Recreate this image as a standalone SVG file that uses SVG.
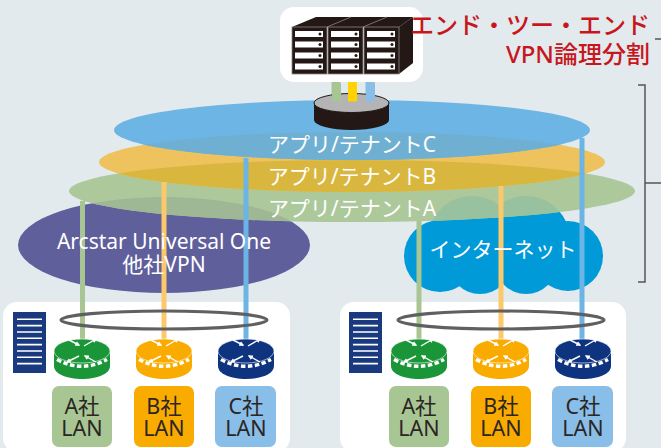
<svg xmlns="http://www.w3.org/2000/svg" xmlns:xlink="http://www.w3.org/1999/xlink" width="661" height="448" viewBox="0 0 661 448">
<style>
text{font-family:"Noto Sans","Noto Sans CJK JP",sans-serif;text-anchor:middle}
.w{fill:#fff;font-size:21px}
.lan{fill:#2b2523;font-size:21.5px}
.red{fill:#c8161d;font-size:24px;font-weight:500;text-anchor:end}
.br{fill:none;stroke:#555;stroke-width:1.5}
.ring{fill:none;stroke:#606060;stroke-width:3.2}
.wl{stroke:#fff;stroke-width:1.6}
.panel{fill:#fff}
.ga{stroke:#a8c594;stroke-width:5}
.ob{stroke:#fbc96b;stroke-width:5}
.bc{stroke:#6cb4e4;stroke-width:5}
.slot{fill:#fff}
</style>
<defs>
<clipPath id="cBlue"><ellipse cx="352" cy="130" rx="238" ry="30"/></clipPath>
<clipPath id="cOrange"><ellipse cx="352" cy="162" rx="253" ry="30"/></clipPath>
<clipPath id="cGreen"><ellipse cx="352" cy="191" rx="283" ry="31"/></clipPath>
<g id="cloudShape">
<circle cx="472" cy="240" r="44"/><circle cx="526" cy="240" r="44"/><circle cx="440" cy="256" r="36"/><circle cx="568" cy="256" r="35"/><circle cx="480" cy="263" r="31"/><circle cx="526" cy="263" r="31"/><rect x="440" y="230" width="128" height="50"/>
</g>
<marker id="ah" markerWidth="5" markerHeight="5" refX="3.6" refY="2.5" orient="auto" markerUnits="userSpaceOnUse"><path d="M0 0L5 2.5L0 5Z" fill="#fff"/></marker>
<g id="rtrArrows" stroke="#fff" stroke-width="1.4" fill="none">
<path d="M-13 -11L-3 -6" marker-end="url(#ah)"/><path d="M2 -5L14 -12" marker-end="url(#ah)"/><path d="M-3 5L-15 11" marker-end="url(#ah)"/><path d="M14 11L3 5" marker-end="url(#ah)"/>
</g>
<g id="rtrBand"><path d="M-25 8.500Q0 22 25 8.500" fill="none" stroke="#fff" stroke-width="3.500" stroke-dasharray="4.500 2.500"/></g>
<g id="rack">
<rect x="0" y="0" width="35" height="47" fill="#231815" stroke="#8c8785" stroke-width=".8"/>
<rect class="slot" x="3" y="4" width="28" height="6"/><rect class="slot" x="3" y="14.500" width="28" height="6"/><rect class="slot" x="3" y="25.500" width="28" height="6"/><rect class="slot" x="3" y="36.500" width="28" height="6"/>
<g fill="#231815"><circle cx="28" cy="7" r="1.500"/><circle cx="28" cy="17.500" r="1.500"/><circle cx="28" cy="28.500" r="1.500"/><circle cx="28" cy="39.500" r="1.500"/></g>
</g>
<g id="doc"><rect x="0" y="0" width="33" height="61" fill="#1a3a80"/><path class="wl" d="M4 7.300H29M4 13.600H29M4 20H29M4 26.300H29M4 32.600H29M4 39H29M4 45.300H29M4 51.600H29"/></g>
</defs>
<rect width="661" height="448" fill="#e2eaee"/>

<g id="panel-left"><rect class="panel" x="3" y="302" width="287" height="150" rx="14"/></g>
<g id="panel-right"><rect class="panel" x="340" y="302" width="286" height="150" rx="14"/></g>

<g id="vpn-cloud"><ellipse cx="164" cy="245" rx="146" ry="48" fill="#5f609b"/></g>
<g id="internet-cloud"><use href="#cloudShape" fill="#009ad9"/></g>

<g id="tenant-a"><ellipse cx="352" cy="191" rx="283" ry="31" fill="#adc99c"/></g>
<g clip-path="url(#cGreen)"><ellipse cx="164" cy="245" rx="146" ry="48" fill="#9fb795"/><use href="#cloudShape" fill="#97c19f"/></g>
<g id="tenant-b"><ellipse cx="352" cy="162" rx="253" ry="30" fill="#eec25c"/></g>
<g clip-path="url(#cOrange)"><ellipse cx="352" cy="191" rx="283" ry="31" fill="#d9b73f"/></g>
<g id="tenant-c"><ellipse cx="352" cy="130" rx="238" ry="30" fill="#6db5e4"/></g>
<g clip-path="url(#cBlue)"><ellipse cx="352" cy="162" rx="253" ry="30" fill="#6fb0d2"/></g>

<g id="connectors">
<path class="ga" d="M82.500 201V340"/><path class="ob" d="M164 182V340"/><path class="bc" d="M246 158V340"/>
<path class="ga" d="M419 221V340"/><path class="ob" d="M501 186V340"/><path class="bc" d="M582 138V340"/>
<path class="ga" d="M336 82V102" stroke-width="8" style="stroke-width:9"/>
<path d="M352.500 82V102" stroke="#ffd200" stroke-width="9"/>
<path d="M370 82V102" stroke="#89bee8" stroke-width="9"/>
</g>

<g id="ring-left"><ellipse class="ring" cx="164" cy="320" rx="103" ry="9"/></g>
<g id="ring-right"><ellipse class="ring" cx="501" cy="320" rx="103" ry="9"/></g>

<g id="server">
<rect x="280" y="7" width="143" height="75" rx="14" fill="#fff"/>
<path d="M292 27L316 17H413L399 27Z" fill="#231815"/>
<path d="M327 27L351 17M363 27L387 17" stroke="#8c8785" stroke-width=".8"/>
<path d="M399 27L413 17V63L399 74Z" fill="#231815"/>
<use href="#rack" x="292" y="27"/><use href="#rack" x="328" y="27"/><use href="#rack" x="364" y="27"/>
</g>
<g id="hub">
<path d="M314 103V120A37.500 10 0 0 0 389 120V103Z" fill="#231815"/>
<ellipse cx="351.500" cy="103" rx="37.500" ry="9.500" fill="#b4b4b4" stroke="#231815" stroke-width="1"/>
<path d="M332 83H341V101.500H332Z" fill="#a8c594"/><path d="M348 83H357V101.500H348Z" fill="#ffd200"/><path d="M366 83H375V101.500H366Z" fill="#89bee8"/>
</g>

<g id="routers-left">
<g id="router-a" transform="translate(82 351)"><path d="M-28 0V15C-28 23 -15 28 0 28S28 23 28 15V0Z" fill="#1a9639"/><ellipse rx="28" ry="12" fill="#1a9639" stroke="#fff" stroke-width=".6"/><use href="#rtrArrows"/><use href="#rtrBand"/></g>
<g id="router-b" transform="translate(164 351)"><path d="M-28 0V15C-28 23 -15 28 0 28S28 23 28 15V0Z" fill="#f9ab00"/><ellipse rx="28" ry="12" fill="#f9ab00" stroke="#fff" stroke-width=".6"/><use href="#rtrArrows"/><use href="#rtrBand"/></g>
<g id="router-c" transform="translate(246 351)"><path d="M-28 0V15C-28 23 -15 28 0 28S28 23 28 15V0Z" fill="#0e337f"/><ellipse rx="28" ry="12" fill="#0e337f" stroke="#fff" stroke-width=".6"/><use href="#rtrArrows"/><use href="#rtrBand"/></g>
</g>
<g id="routers-right">
<g id="router-a2" transform="translate(419 351)"><path d="M-28 0V15C-28 23 -15 28 0 28S28 23 28 15V0Z" fill="#1a9639"/><ellipse rx="28" ry="12" fill="#1a9639" stroke="#fff" stroke-width=".6"/><use href="#rtrArrows"/><use href="#rtrBand"/></g>
<g id="router-b2" transform="translate(501 351)"><path d="M-28 0V15C-28 23 -15 28 0 28S28 23 28 15V0Z" fill="#f9ab00"/><ellipse rx="28" ry="12" fill="#f9ab00" stroke="#fff" stroke-width=".6"/><use href="#rtrArrows"/><use href="#rtrBand"/></g>
<g id="router-c2" transform="translate(583 351)"><path d="M-28 0V15C-28 23 -15 28 0 28S28 23 28 15V0Z" fill="#0e337f"/><ellipse rx="28" ry="12" fill="#0e337f" stroke="#fff" stroke-width=".6"/><use href="#rtrArrows"/><use href="#rtrBand"/></g>
</g>

<g id="doc-left"><use href="#doc" x="13" y="312"/></g>
<g id="doc-right"><use href="#doc" x="349" y="312"/></g>

<g id="lan-a"><rect x="52" y="386" width="60" height="61" rx="7" fill="#a8c594"/><text class="lan" x="82" y="414">A社</text><text class="lan" x="82" y="436">LAN</text></g>
<g id="lan-b"><rect x="134" y="386" width="60" height="61" rx="7" fill="#f9ab00"/><text class="lan" x="164" y="414">B社</text><text class="lan" x="164" y="436">LAN</text></g>
<g id="lan-c"><rect x="215" y="386" width="61" height="61" rx="7" fill="#89bee8"/><text class="lan" x="246" y="414">C社</text><text class="lan" x="246" y="436">LAN</text></g>
<g id="lan-a2"><rect x="389" y="386" width="60" height="61" rx="7" fill="#a8c594"/><text class="lan" x="419" y="414">A社</text><text class="lan" x="419" y="436">LAN</text></g>
<g id="lan-b2"><rect x="471" y="386" width="60" height="61" rx="7" fill="#f9ab00"/><text class="lan" x="501" y="414">B社</text><text class="lan" x="501" y="436">LAN</text></g>
<g id="lan-c2"><rect x="552" y="386" width="61" height="61" rx="7" fill="#89bee8"/><text class="lan" x="583" y="414">C社</text><text class="lan" x="583" y="436">LAN</text></g>

<g id="labels">
<text class="w" x="352" y="152">アプリ/テナントC</text>
<text class="w" x="352" y="184">アプリ/テナントB</text>
<text class="w" x="352" y="216">アプリ/テナントA</text>
<text class="w" x="164" y="249">Arcstar Universal One</text>
<text class="w" x="164" y="272">他社VPN</text>
<text class="w" x="503" y="257">インターネット</text>
<text class="red" x="650" y="34">エンド・ツー・エンド</text>
<text class="red" x="650" y="63">VPN論理分割</text>
</g>

<g id="brackets">
<path class="br" d="M655 39H661M638 85H645V282H638M645 183H661"/>
</g>
</svg>
